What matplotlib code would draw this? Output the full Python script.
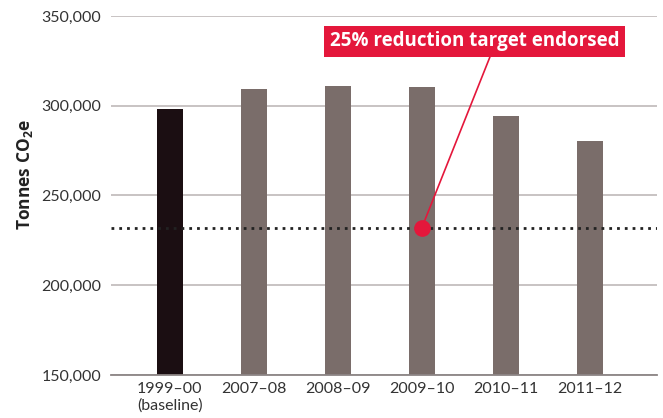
import numpy as np
import matplotlib.pyplot as plt

plt.rcParams['font.family'] = ['Lato', 'DejaVu Sans']

# Data
years = ['1999\u201300\n(baseline)', '2007\u201308', '2008\u201309', '2009\u201310', '2010\u201311', '2011\u201312']
emissions = [298000, 309500, 311000, 310500, 294500, 280500]
target = 232000
target_year = 3  # index of 2009-10
yticks = [150000, 200000, 250000, 300000, 350000]

bar_colors = ['#1b0e12'] + ['#7a6d6a'] * 5
red = '#e4173b'

fig = plt.figure(figsize=(6.63, 4.18), dpi=100)
ax = fig.add_axes([0.1674, 0.1029, 0.8236, 0.8588])

x = np.arange(len(years))
ax.bar(x, emissions, width=0.31, color=bar_colors, zorder=2)

ax.set_ylim(150000, 350000)
ax.set_xlim(-0.70, 5.80)
ax.set_yticks(yticks)
ax.set_yticklabels(['{:,}'.format(v) for v in yticks])
ax.set_xticks(x)
ax.set_xticklabels(years)
ax.yaxis.grid(True, color='#c4bebe', linewidth=1.3, zorder=0)
ax.tick_params(length=0, labelsize=11.5, colors='#333333')
ax.tick_params(axis='y', pad=7)
ax.tick_params(axis='x', pad=5)
for s in ['top', 'right', 'left']:
    ax.spines[s].set_visible(False)
ax.spines['bottom'].set_color('#8c8585')
ax.spines['bottom'].set_linewidth(1.3)
ax.spines['bottom'].set_zorder(3)

ax.set_ylabel('Tonnes CO$_\\mathregular{2}$e', fontsize=12.5, fontweight='bold',
              color='#222222', family=['Open Sans', 'DejaVu Sans'])
ax.yaxis.set_label_coords(-0.14, 0.56)

# target line
ax.axhline(target, color='#222222', linestyle=(0, (1, 1.8)), linewidth=2, zorder=3)

# annotation
ax.plot(target_year, target, 'o', color=red, markersize=11, zorder=5)
ax.annotate('25% reduction target endorsed', xy=(target_year, target),
            xytext=(3.63, 335800), fontsize=13.5, fontweight='bold', color='white',
            family=['Open Sans', 'DejaVu Sans'], ha='center', va='center',
            bbox=dict(boxstyle='square,pad=0.3', fc=red, ec='none'),
            arrowprops=dict(arrowstyle='-', color=red, lw=1.2, shrinkA=0, shrinkB=0,
                            relpos=(0.56, 0)),
            zorder=6)

fig.savefig('out.png', dpi=100)
